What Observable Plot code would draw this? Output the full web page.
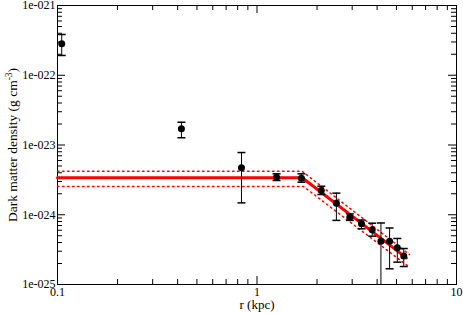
<!DOCTYPE html>
<html><head><meta charset="utf-8">
<script src="https://cdn.jsdelivr.net/npm/d3@7"></script>
<script src="https://cdn.jsdelivr.net/npm/@observablehq/plot@0.6"></script>
<style>
body{margin:0;background:#fff}
svg text, svg tspan { font-family: "Liberation Serif", "Times New Roman", Tinos, Times, serif !important; }
</style>
</head><body><div id="chart"></div>
<script>
// Data (kpc, g cm^-3)
const radius    = [0.105, 0.418, 0.836, 1.253, 1.67, 2.10, 2.50, 2.92, 3.34, 3.78, 4.18, 4.62, 5.05, 5.44];
const density   = [2.82e-22, 1.71e-23, 4.71e-24, 3.45e-24, 3.34e-24, 2.23e-24, 1.46e-24, 9.2e-25, 7.4e-25, 6.08e-25, 4.18e-25, 4.18e-25, 3.36e-25, 2.56e-25];
const densityHi = [3.84e-22, 2.12e-23, 7.8e-24, 3.86e-24, 3.86e-24, 2.56e-24, 2.04e-24, 1.03e-24, 8.4e-25, 7.57e-25, 7.62e-25, 6.46e-25, 4.57e-25, 3.28e-25];
const densityLo = [1.92e-22, 1.27e-23, 1.48e-24, 3.1e-24, 2.93e-24, 1.95e-24, 8.3e-25, 8.3e-25, 6.29e-25, 4.93e-25, 1e-26, 1.68e-25, 2.09e-25, 1.81e-25];

// Broken power-law fit and its uncertainty band (vertices)
const fitR     = [0.1, 1.685, 5.61];
const fitRho   = [3.39e-24, 3.39e-24, 2.41e-25];
const upperR   = [0.1, 1.68, 5.81];
const upperRho = [4.21e-24, 4.21e-24, 2.69e-25];
const lowerR   = [0.1, 1.71, 5.66];
const lowerRho = [2.54e-24, 2.54e-24, 1.87e-25];

// Axes
const xMajorTicks = [0.1, 1, 10];
const xTickLabels = ["0.1", "1", "10"];
const xMinorTicks = [0.2, 0.3, 0.4, 0.5, 0.6, 0.7, 0.8, 0.9, 2, 3, 4, 5, 6, 7, 8, 9];
const yMajorTicks = [1e-25, 1e-24, 1e-23, 1e-22, 1e-21];
const yTickLabels = ["1e-025", "1e-024", "1e-023", "1e-022", "1e-021"];
const yMinorMultipliers = [2, 3, 4, 5, 6, 7, 8, 9];
const yDecades = [1e-25, 1e-24, 1e-23, 1e-22];
const xLabel = "r (kpc)";
const yLabelMain = "Dark matter density (g cm";
const yLabelSup = "-3";
const yLabelEnd = ")";

const yMinorTicks = yDecades.flatMap(d => yMinorMultipliers.map(m => m * d));
const points = radius.map((r, i) => ({r, rho: density[i], hi: densityHi[i], lo: densityLo[i]}));
const fit = fitR.map((r, i) => ({r, rho: fitRho[i]}));
const upper = upperR.map((r, i) => ({r, rho: upperRho[i]}));
const lower = lowerR.map((r, i) => ({r, rho: lowerRho[i]}));

const FONT = "Liberation Serif";
const W = 463, H = 313, mL = 57, mR = 7, mT = 5, mB = 29;
const fw = W - mL - mR, fh = H - mT - mB;
const major = 8, minor = 5;
const cap = {draw(ctx) { ctx.moveTo(-4, 0); ctx.lineTo(4, 0); }};
const yLabelFull = yLabelMain + yLabelSup + yLabelEnd;

const chart = Plot.plot({
  width: W, height: H,
  marginLeft: mL, marginRight: mR, marginTop: mT, marginBottom: mB,
  x: {type: "log", domain: [0.1, 10], axis: null},
  y: {type: "log", domain: [1e-25, 1e-21], axis: null},
  style: {fontFamily: FONT, background: "white", color: "black"},
  marks: [
    Plot.ruleX(xMajorTicks, {x: d => d, insetTop: fh - major, stroke: "black"}),
    Plot.ruleX(xMajorTicks, {x: d => d, insetBottom: fh - major, stroke: "black"}),
    Plot.ruleX(xMinorTicks, {x: d => d, insetTop: fh - minor, stroke: "black"}),
    Plot.ruleX(xMinorTicks, {x: d => d, insetBottom: fh - minor, stroke: "black"}),
    Plot.ruleY(yMajorTicks, {y: d => d, insetRight: fw - major, stroke: "black"}),
    Plot.ruleY(yMajorTicks, {y: d => d, insetLeft: fw - major, stroke: "black"}),
    Plot.ruleY(yMinorTicks, {y: d => d, insetRight: fw - minor, stroke: "black"}),
    Plot.ruleY(yMinorTicks, {y: d => d, insetLeft: fw - minor, stroke: "black"}),
    Plot.frame({stroke: "black"}),
    Plot.text(xMajorTicks, {x: d => d, text: (d, i) => xTickLabels[i], frameAnchor: "bottom", lineAnchor: "top", dy: 3, fontSize: 12, fontFamily: FONT, fill: "black"}),
    Plot.text(yMajorTicks, {y: d => d, text: (d, i) => yTickLabels[i], frameAnchor: "left", textAnchor: "end", dx: -2, fontSize: 12, fontFamily: FONT, fill: "black"}),
    Plot.text([xLabel], {text: d => d, frameAnchor: "bottom", lineAnchor: "top", dy: 15, fontSize: 13, fontFamily: FONT, fill: "black"}),
    Plot.text([yLabelFull], {text: d => d, frameAnchor: "left", dx: -45, rotate: -90, textAnchor: "middle", fontSize: 13.5, fontFamily: FONT, fill: "black"}),
    Plot.line(fit, {x: "r", y: "rho", stroke: "red", strokeWidth: 3}),
    Plot.line(upper, {x: "r", y: "rho", stroke: "red", strokeWidth: 1.5, strokeDasharray: "1.5 3.5"}),
    Plot.line(lower, {x: "r", y: "rho", stroke: "red", strokeWidth: 1.5, strokeDasharray: "1.5 3.5"}),
    Plot.ruleX(points, {x: "r", y1: "lo", y2: "hi", stroke: "black", clip: true}),
    Plot.dot(points, {x: "r", y: "hi", symbol: cap, fill: "none", stroke: "black", clip: true}),
    Plot.dot(points, {x: "r", y: "lo", symbol: cap, fill: "none", stroke: "black", clip: true}),
    Plot.dot(points, {x: "r", y: "rho", r: 3.5, fill: "black"})
  ]
});

// superscript in y label
for (const t of chart.querySelectorAll("text")) {
  if (t.textContent === yLabelFull) {
    t.textContent = "";
    t.setAttribute("text-anchor", "middle");
    t.appendChild(document.createTextNode(yLabelMain));
    const s = document.createElementNS("http://www.w3.org/2000/svg", "tspan");
    s.setAttribute("baseline-shift", "super"); s.setAttribute("font-size", "9.5"); s.textContent = yLabelSup;
    t.appendChild(s);
    t.appendChild(document.createTextNode(yLabelEnd));
  }
}
document.getElementById("chart").appendChild(chart);
</script>
</body></html>
